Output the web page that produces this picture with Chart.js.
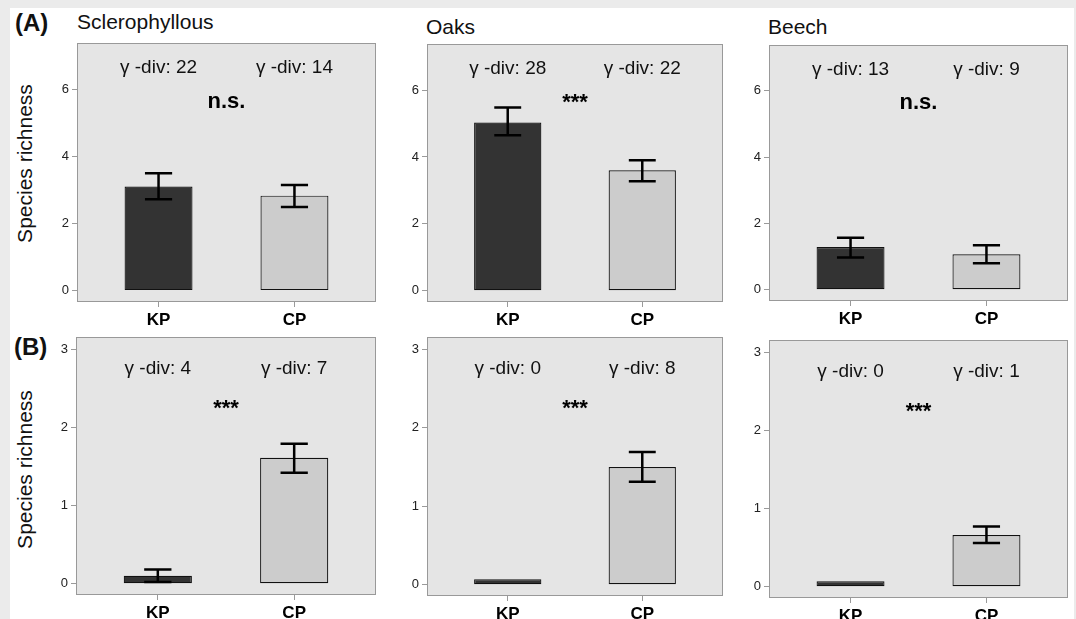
<!DOCTYPE html>
<html><head><meta charset="utf-8">
<script src="https://cdn.jsdelivr.net/npm/chart.js@4.4.1/dist/chart.umd.min.js"></script>
<style>
html,body{margin:0;padding:0;background:#ebebeb;}
#stage{position:relative;width:1076px;height:619px;overflow:hidden;font-family:"Liberation Sans",Arial,sans-serif;}
#paper{position:absolute;left:10px;top:8px;width:1064px;height:611px;background:#fff;}
canvas{position:absolute;left:0;top:0;}
.t{position:absolute;white-space:nowrap;line-height:1;color:#111;}
.rot{width:200px;text-align:center;transform:rotate(-90deg);transform-origin:50% 50%;}
</style></head><body>
<div id="stage"><div id="paper"></div></div>
<script>
// ---------------- data ----------------
const categories = ['KP', 'CP'];
const panelTitles = ['Sclerophyllous', 'Oaks', 'Beech'];
const rowLabels = ['(A)', '(B)'];
const yAxisTitle = 'Species richness';

// Row A (per panel: [KP, CP])
const meanA    = [[3.10, 2.83], [5.03, 3.60], [1.29, 1.07]];
const errLowA  = [[2.72, 2.49], [4.65, 3.27], [0.97, 0.80]];
const errHighA = [[3.50, 3.15], [5.48, 3.90], [1.57, 1.34]];
const gammaA   = [[22, 14], [28, 22], [13, 9]];
const sigA     = ['n.s.', '***', 'n.s.'];
const yTicksA  = [0, 2, 4, 6];

// Row B
const meanB    = [[0.10, 1.61], [0.07, 1.50], [0.07, 0.66]];
const errLowB  = [[0.02, 1.42], [0.07, 1.31], [0.07, 0.56]];
const errHighB = [[0.18, 1.79], [0.07, 1.69], [0.07, 0.77]];
const gammaB   = [[4, 7], [0, 8], [0, 1]];
const sigB     = ['***', '***', '***'];
const yTicksB  = [0, 1, 2, 3];

// ---------------- layout / style ----------------
const FONT = '"Liberation Sans", Arial, sans-serif';
const CW = 1076, CH = 680, YW = 40, XH = 30;
const rows = [
  {mean: meanA, lo: errLowA, hi: errHighA, gamma: gammaA, sig: sigA, ticks: yTicksA, ymin: -0.34, ymax: 7.38, gY: 6.63, sY: 5.62,
   rects: [[77, 43, 376, 302], [427, 44, 723, 302], [769, 45, 1068, 301]]},
  {mean: meanB, lo: errLowB, hi: errHighB, gamma: gammaB, sig: sigB, ticks: yTicksB, ymin: -0.145, ymax: 3.157, gY: 2.755, sY: 2.24,
   rects: [[76, 337, 376, 595], [427, 337, 723, 596], [769, 340, 1068, 598]]}
];
const barColors = ['#333333', '#cccccc'];

const stage = document.getElementById('stage');
function addText(txt, css, cls) {
  const d = document.createElement('div');
  d.className = 't' + (cls ? ' ' + cls : '');
  d.textContent = txt;
  d.style.cssText = css;
  stage.appendChild(d);
}
addText(rowLabels[0], 'left:15px;top:11px;font-size:24px;font-weight:bold;');
addText(rowLabels[1], 'left:14px;top:335px;font-size:24px;font-weight:bold;');
addText(panelTitles[0], 'left:77px;top:11px;font-size:21px;');
addText(panelTitles[1], 'left:426px;top:16px;font-size:21px;');
addText(panelTitles[2], 'left:768px;top:16px;font-size:21px;');
addText(yAxisTitle, 'left:-76px;top:153px;font-size:21px;', 'rot');
addText(yAxisTitle, 'left:-76px;top:459px;font-size:21px;', 'rot');

const panelPlugin = {
  id: 'panelBg',
  beforeDraw(chart) {
    const a = chart.chartArea, c = chart.ctx;
    c.save(); c.fillStyle = '#e5e5e5';
    c.fillRect(a.left, a.top, a.right - a.left, a.bottom - a.top);
    c.restore();
  },
  afterDraw(chart) {
    const a = chart.chartArea, c = chart.ctx;
    c.save(); c.strokeStyle = '#999999'; c.lineWidth = 1;
    c.strokeRect(a.left + 0.5, a.top + 0.5, a.right - a.left - 1, a.bottom - a.top - 1);
    c.restore();
  }
};

function overlay(lo, hi, gamma, sig, gY, sY) {
  return {
    id: 'overlay',
    afterDatasetsDraw(chart) {
      const x = chart.scales.x, y = chart.scales.y, c = chart.ctx;
      c.save();
      c.strokeStyle = '#000'; c.lineWidth = 2.5;
      categories.forEach((cat, i) => {
        const xv = i + 1;
        if (hi[i] > lo[i]) {
          const xc = x.getPixelForValue(xv), xl = x.getPixelForValue(xv - 0.1), xr = x.getPixelForValue(xv + 0.1);
          const yl = y.getPixelForValue(lo[i]), yh = y.getPixelForValue(hi[i]);
          c.beginPath();
          c.moveTo(xc, yl); c.lineTo(xc, yh);
          c.moveTo(xl, yl); c.lineTo(xr, yl);
          c.moveTo(xl, yh); c.lineTo(xr, yh);
          c.stroke();
        }
        c.fillStyle = '#111'; c.font = '19px ' + FONT;
        c.textAlign = 'center'; c.textBaseline = 'middle';
        c.fillText('\u03b3 -div: ' + gamma[i], x.getPixelForValue(xv), y.getPixelForValue(gY));
      });
      c.fillStyle = '#000'; c.font = 'bold 22px ' + FONT;
      c.textAlign = 'center'; c.textBaseline = 'middle';
      c.fillText(sig, x.getPixelForValue(1.5), y.getPixelForValue(sY));
      c.restore();
    }
  };
}

rows.forEach((row) => {
  row.rects.forEach((r, p) => {
    const [L, T, R, B] = r;
    const cv = document.createElement('canvas');
    cv.width = CW; cv.height = CH;
    cv.style.width = CW + 'px'; cv.style.height = CH + 'px';
    stage.appendChild(cv);
    new Chart(cv.getContext('2d'), {
      type: 'bar',
      data: {
        datasets: [{
          data: categories.map((c, i) => ({x: i + 1, y: row.mean[p][i]})),
          backgroundColor: barColors,
          borderColor: '#111111',
          borderWidth: 1.2,
          borderSkipped: false,
          barPercentage: 0.5,
          categoryPercentage: 1.0
        }]
      },
      options: {
        responsive: false, animation: false, events: [],
        layout: {padding: {left: L - YW, top: T, right: CW - R, bottom: CH - B - XH}},
        plugins: {legend: {display: false}, tooltip: {enabled: false}},
        scales: {
          x: {
            type: 'linear', min: 0.4, max: 2.6, offset: false, bounds: 'data',
            afterBuildTicks: s => { s.ticks = categories.map((c, i) => ({value: i + 1})); },
            afterFit: s => { s.height = XH; s.paddingLeft = 0; s.paddingRight = 0; },
            ticks: {callback: v => categories[Math.round(v) - 1], color: '#000', font: {family: FONT, size: 17, weight: 'bold'}, padding: 3, maxRotation: 0, autoSkip: false},
            grid: {drawOnChartArea: false, drawTicks: true, tickLength: 5, color: '#9a9a9a', offset: false},
            border: {display: false}
          },
          y: {
            type: 'linear', min: row.ymin, max: row.ymax, bounds: 'data',
            afterBuildTicks: s => { s.ticks = row.ticks.map(v => ({value: v})); },
            afterFit: s => { s.width = YW; s.paddingTop = 0; s.paddingBottom = 0; },
            ticks: {color: '#222', font: {family: FONT, size: 13}, padding: 3, autoSkip: false},
            grid: {drawOnChartArea: false, drawTicks: true, tickLength: 5, color: '#9a9a9a'},
            border: {display: false}
          }
        }
      },
      plugins: [panelPlugin, overlay(row.lo[p], row.hi[p], row.gamma[p], row.sig[p], row.gY, row.sY)]
    });
  });
});
</script>
</body></html>
